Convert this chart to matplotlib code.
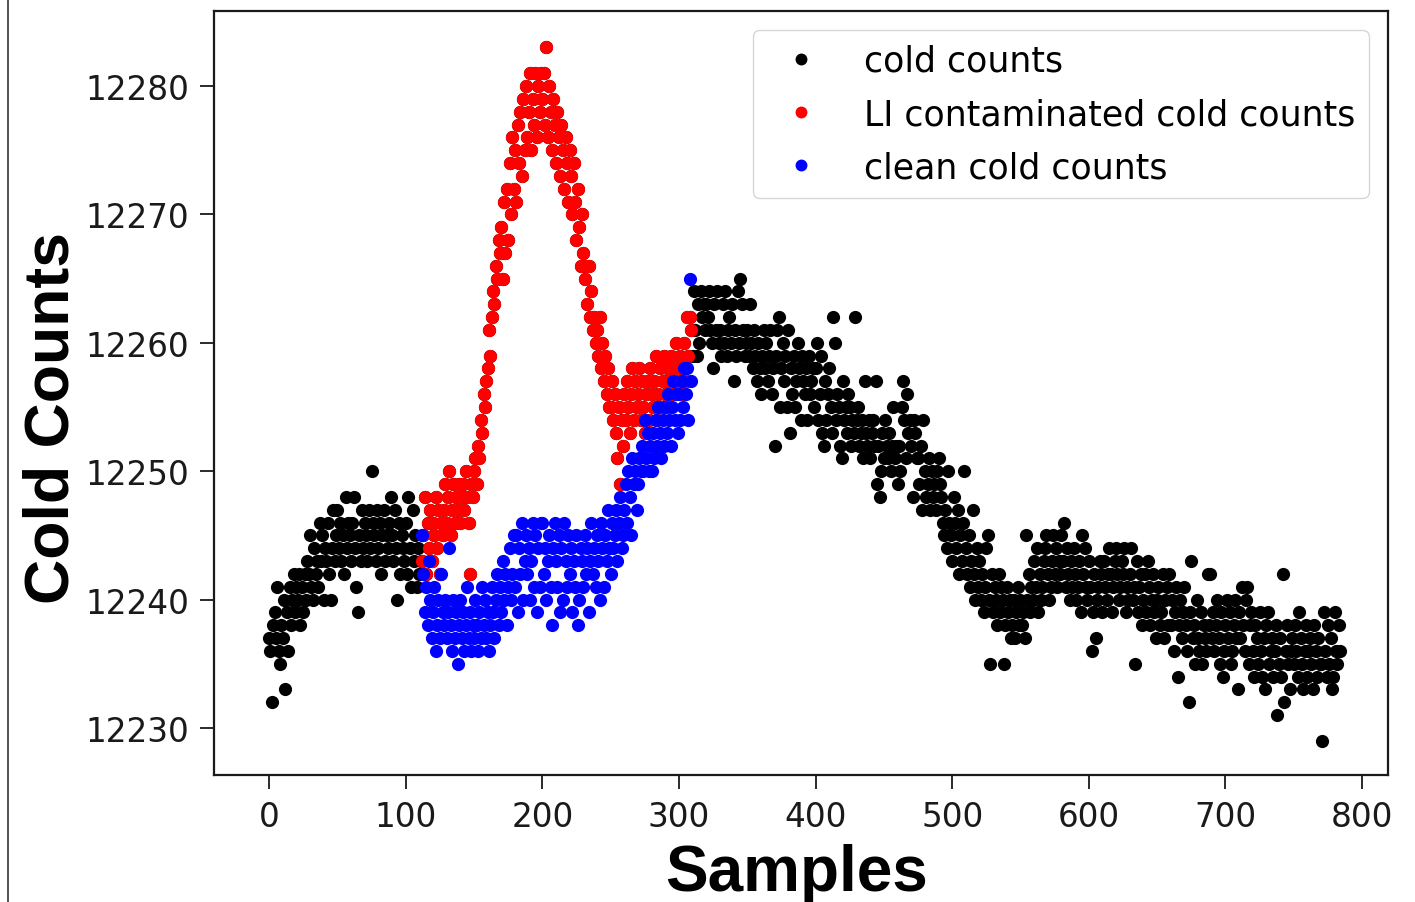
import matplotlib
matplotlib.use("Agg")
import matplotlib.pyplot as plt
import numpy as np
from matplotlib.lines import Line2D

BASE = 12230

# cold counts, stored as offsets from BASE
# samples 0..111 (before the LI event)
cold_before = [
    7, 6, 2, 8, 9, 7, 11, 6, 5, 8,
    7, 10, 3, 9, 6, 11, 8, 10, 12, 9,
    11, 10, 12, 8, 11, 9, 12, 10, 13, 12,
    15, 11, 10, 14, 12, 13, 11, 16, 13, 15,
    10, 14, 13, 16, 12, 10, 14, 17, 13, 15,
    17, 14, 16, 13, 15, 12, 18, 14, 16, 15,
    13, 16, 18, 14, 11, 9, 15, 13, 17, 14,
    16, 15, 13, 17, 14, 20, 16, 15, 13, 17,
    14, 16, 12, 15, 17, 13, 15, 14, 16, 18,
    15, 13, 17, 14, 10, 16, 12, 15, 14, 13,
    16, 12, 18, 14, 11, 17, 13, 15, 11, 14,
    12, 13,
]

# samples 112..309, LI contaminated cold counts
li_contaminated = [
    13, 15, 18, 12, 16, 14, 17, 13,
    16, 15, 18, 14, 17, 12, 16, 15, 17, 19,
    16, 18, 20, 15, 17, 19, 16, 18, 17, 19,
    16, 18, 19, 17, 20, 18, 16, 12, 19, 18,
    20, 21, 19, 22, 21, 24, 23, 26, 25, 27,
    28, 31, 29, 32, 34, 33, 36, 35, 38, 37,
    39, 35, 41, 37, 42, 38, 44, 40, 46, 42,
    45, 41, 47, 44, 48, 43, 49, 45, 50, 46,
    48, 51, 45, 49, 47, 51, 46, 50, 48, 51,
    49, 51, 47, 53, 46, 50, 48, 45, 49, 47,
    44, 48, 46, 43, 47, 45, 42, 46, 44, 41,
    45, 43, 40, 44, 41, 38, 42, 39, 36, 40,
    37, 35, 36, 33, 36, 32, 34, 31, 32, 30,
    31, 29, 32, 28, 30, 27, 29, 26, 28, 25,
    25, 27, 24, 26, 23, 21, 25, 19, 24, 22,
    26, 24, 27, 25, 23, 26, 28, 24, 27, 25,
    26, 28, 24, 27, 25, 23, 26, 27, 24, 28,
    26, 25, 27, 29, 24, 26, 28, 25, 27, 29,
    26, 28, 27, 25, 29, 28, 26, 27, 30, 28,
    27, 29, 28, 26, 30, 27, 32, 29, 32, 31,
]

# samples 112..309, corrected (clean) cold counts
clean = [
    15, 12, 9, 11, 8, 13, 10, 7,
    9, 11, 6, 8, 10, 7, 12, 9, 8, 10,
    7, 9, 14, 8, 6, 10, 7, 9, 5, 8,
    10, 7, 9, 6, 8, 11, 7, 9, 6, 8,
    7, 10, 8, 6, 9, 7, 11, 8, 10, 7,
    9, 6, 8, 11, 9, 7, 10, 12, 8, 11,
    9, 13, 10, 12, 8, 11, 14, 10, 12, 15,
    11, 15, 9, 14, 12, 16, 10, 13, 15, 12,
    14, 10, 13, 16, 11, 15, 9, 14, 11, 16,
    16, 12, 14, 10, 13, 15, 11, 8, 14, 16,
    13, 11, 15, 9, 14, 10, 16, 13, 11, 15,
    12, 14, 9, 13, 11, 15, 8, 10, 14, 13,
    11, 15, 12, 14, 9, 13, 16, 12, 14, 11,
    15, 13, 10, 16, 14, 11, 15, 13, 17, 14,
    12, 16, 14, 15, 17, 13, 16, 18, 14, 15,
    17, 19, 16, 20, 18, 15, 21, 19, 20, 17,
    19, 21, 20, 22, 20, 24, 21, 23, 20, 22,
    20, 23, 21, 24, 22, 25, 23, 21, 24, 22,
    25, 23, 26, 24, 22, 25, 27, 24, 26, 23,
    26, 24, 27, 25, 28, 26, 28, 24, 35, 27,
]

# samples 310..784 (after the LI event)
cold_after = [
    29, 34, 31, 29, 33, 30, 34, 32, 33, 31,
    33, 32, 34, 31, 30, 28, 33, 31, 34, 30,
    31, 29, 33, 30, 34, 29, 31, 32, 30, 33,
    27, 31, 29, 34, 30, 35, 33, 31, 29, 30,
    31, 29, 33, 30, 28, 31, 29, 27, 30, 28,
    26, 29, 31, 28, 30, 27, 29, 31, 26, 28,
    22, 29, 31, 32, 25, 28, 30, 27, 29, 25,
    31, 23, 28, 26, 29, 25, 27, 30, 28, 24,
    29, 27, 26, 28, 24, 29, 26, 27, 28, 25,
    28, 30, 24, 26, 29, 23, 22, 27, 24, 26,
    28, 25, 23, 32, 30, 24, 26, 25, 22, 21,
    27, 24, 25, 23, 26, 25, 22, 24, 23, 32,
    24, 25, 22, 23, 24, 21, 27, 23, 22, 24,
    21, 23, 24, 22, 27, 19, 22, 18, 20, 23,
    21, 24, 22, 21, 23, 20, 22, 25, 21, 22,
    19, 22, 20, 25, 27, 24, 21, 26, 23, 24,
    22, 18, 24, 23, 21, 21, 19, 22, 17, 24,
    20, 18, 19, 21, 17, 20, 18, 19, 17, 20,
    21, 19, 18, 16, 15, 17, 14, 20, 16, 15,
    13, 18, 16, 14, 17, 12, 15, 13, 16, 20,
    14, 12, 15, 11, 13, 17, 12, 10, 14, 11,
    13, 10, 12, 9, 11, 14, 15, 10, 5, 12,
    9, 11, 10, 8, 12, 9, 11, 10, 5, 8,
    11, 9, 10, 7, 8, 10, 7, 9, 11, 8,
    10, 8, 9, 7, 15, 10, 12, 9, 11, 10,
    13, 11, 14, 9, 12, 10, 11, 13, 14, 15,
    12, 10, 11, 13, 15, 12, 14, 11, 13, 12,
    15, 13, 16, 11, 14, 12, 10, 13, 11, 14,
    12, 10, 11, 13, 9, 15, 12, 14, 11, 10,
    13, 11, 6, 9, 12, 7, 10, 11, 13, 12,
    9, 13, 11, 10, 12, 14, 12, 9, 11, 13,
    14, 12, 10, 11, 13, 12, 14, 9, 11, 10,
    12, 14, 10, 11, 5, 13, 9, 11, 12, 8,
    10, 12, 9, 13, 11, 8, 10, 12, 9, 7,
    10, 11, 8, 9, 12, 7, 10, 11, 8, 12,
    8, 10, 6, 9, 11, 4, 8, 10, 7, 9,
    11, 8, 6, 2, 9, 13, 7, 8, 5, 10,
    7, 6, 9, 5, 8, 7, 6, 12, 8, 12,
    7, 9, 6, 8, 10, 7, 5, 9, 4, 6,
    8, 10, 7, 9, 5, 6, 8, 10, 7, 3,
    9, 7, 11, 8, 6, 10, 11, 5, 8, 9,
    6, 4, 8, 7, 5, 9, 6, 4, 7, 3,
    8, 9, 5, 6, 7, 4, 6, 8, 1, 5,
    7, 4, 12, 2, 6, 8, 5, 3, 6, 7,
    5, 8, 6, 4, 9, 7, 5, 3, 6, 8,
    4, 6, 7, 5, 3, 8, 6, 4, 7, 5,
    5, -1, 9, 6, 4, 8, 5, 7, 3, 4,
    9, 6, 5, 8, 6,
]

x_ticks = [0, 100, 200, 300, 400, 500, 600, 700, 800]
y_ticks = [12230, 12240, 12250, 12260, 12270, 12280]


def main() -> None:
    n_before = len(cold_before)
    n_li = len(li_contaminated)
    cold = BASE + np.array(cold_before + li_contaminated + cold_after)
    x_all = np.arange(len(cold))
    x_li = np.arange(n_before, n_before + n_li)

    fig = plt.figure(figsize=(14.15, 9.03), dpi=100)
    ax = fig.add_axes([214 / 1415, 1 - 776 / 903, 1174 / 1415, 764 / 903])

    style = dict(linestyle="none", marker="o", markersize=9.5, markeredgewidth=0)
    ax.plot(x_all, cold, color="k", label="cold counts", **style)
    ax.plot(x_li, BASE + np.array(li_contaminated), color="r", label="LI contaminated cold counts", **style)
    ax.plot(x_li, BASE + np.array(clean), color="b", label="clean cold counts", **style)

    ax.set_xlim(-40.3, 819)
    ax.set_ylim(12226.34, 12285.84)
    ax.set_xticks(x_ticks)
    ax.set_yticks(y_ticks)
    ax.tick_params(labelsize=23.5, length=10, width=1.3, pad=8, colors="#1a1a1a")
    for spine in ax.spines.values():
        spine.set_linewidth(1.6)
        spine.set_color("#1a1a1a")

    ax.legend(loc="upper right", fontsize=25, borderaxespad=0.55, labelspacing=0.55,
              markerscale=0.9)

    fig.text(52 / 1415, 1 - 418 / 903, "Cold Counts", rotation=90, ha="center", va="center",
             fontsize=45, fontweight="bold", family="Liberation Sans")
    fig.text(797 / 1415, 1 - 874 / 903, "Samples", ha="center", va="center",
             fontsize=46, fontweight="bold", family="Liberation Sans")

    fig.add_artist(Line2D([8 / 1415, 8 / 1415], [0, 1], color="#333333", linewidth=1.2))

    fig.savefig("out.png", dpi=100)
    plt.close(fig)


if __name__ == "__main__":
    main()
